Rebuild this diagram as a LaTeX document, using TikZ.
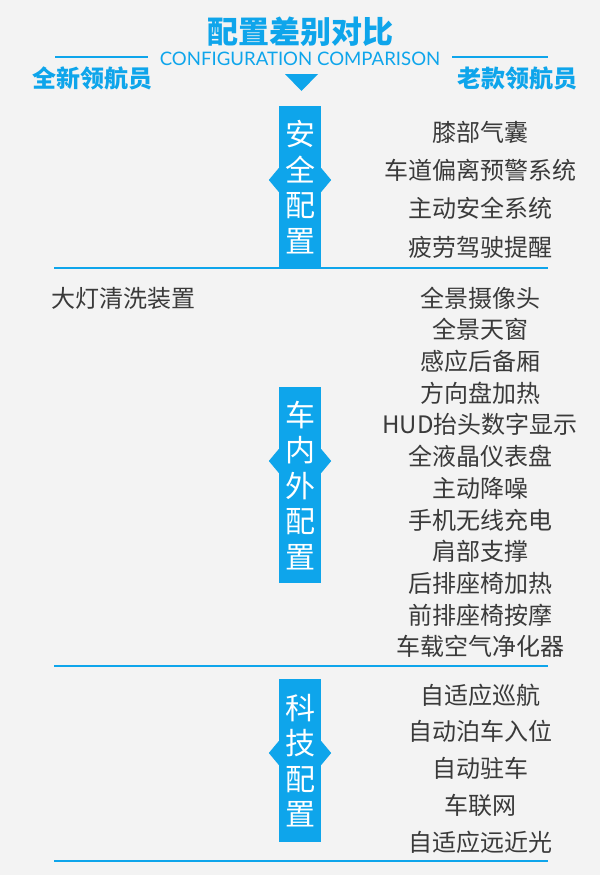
\documentclass[tikz,border=0pt]{standalone}
\usepackage{fontspec}
\setmainfont{Noto Sans CJK SC}
\newfontfamily\latinfont{Lato}
\usetikzlibrary{calc,positioning}
\definecolor{cfgblue}{HTML}{0EA5EB}
\definecolor{cfgtext}{HTML}{3A3A3A}
\definecolor{cfgback}{HTML}{F3F3F3}

\begin{document}
\begin{tikzpicture}[x=1pt,y=-1pt,
itemtext/.style={text=cfgtext, font=\fontsize{24}{28}\selectfont, inner sep=0pt, text height=20.6pt, text depth=2.4pt},
headtext/.style={text=cfgblue, font=\fontsize{24}{28}\selectfont\bfseries, inner sep=0pt},
catbox/.style={rectangle, fill=cfgblue, text=white, minimum width=42pt, inner sep=0pt, anchor=north, align=center, font=\fontsize{30}{35.5}\selectfont},
sepline/.style={draw=cfgblue, line width=1.5pt},
topline/.style={draw=cfgblue, line width=2pt}
]
%Background
\fill[cfgback] (0,0) rectangle (600,875);
\useasboundingbox (0,0) rectangle (600,875);

%Header
\node[headtext, font=\fontsize{31}{34}\selectfont\bfseries] (title) at (300,32) {配置差别对比};
\node[text=cfgblue, inner sep=0pt, font=\latinfont\fontsize{18.6}{20}\selectfont] (subtitle) at (300,59) {CONFIGURATION COMPARISON};
\draw[topline] (55,57) -- (148,57);
\draw[topline] (452,57) -- (548,57);
\node[headtext] (newhead) at (92.5,78.5) {全新领航员};
\node[headtext] (oldhead) at (517,78.5) {老款领航员};
\fill[cfgblue] (285,74) -- (318,74) -- (301.5,91) -- cycle;

%Lines
\draw[sepline] (54,268) -- (548,268);
\draw[sepline] (54,666) -- (548,666);
\draw[sepline] (54,861) -- (548,861);

%Categories
\node[catbox, minimum height=162pt] (safety) at (300,106) {安\\全\\配\\置};
\node[catbox, minimum height=196pt] (body) at (300,387) {车\\内\\外\\配\\置};
\node[catbox, minimum height=163pt] (tech) at (300,679) {科\\技\\配\\置};
\foreach \b in {safety,body,tech} {
  \fill[cfgblue] ($(\b.north west)+(0,62)$) -- ++(-10,12) -- ++(10,12) -- cycle;
  \fill[cfgblue] ($(\b.north east)+(0,62)$) -- ++(10,12) -- ++(-10,12) -- cycle;
}

%Items
\node[itemtext] (lamp) at (123,298) {大灯清洗装置};
\foreach \t [count=\i from 0] in {膝部气囊,车道偏离预警系统,主动安全系统,疲劳驾驶提醒}
  \node[itemtext] (safe-\i) at (480,{132+38.4*\i}) {\t};
\foreach \t [count=\i from 0] in {全景摄像头,全景天窗,感应后备厢,方向盘加热,HUD抬头数字显示,全液晶仪表盘,主动降噪,手机无线充电,肩部支撑,后排座椅加热,前排座椅按摩,车载空气净化器}
  \node[itemtext] (body-\i) at (480,{298+31.7*\i}) {\t};
\foreach \t [count=\i from 0] in {自适应巡航,自动泊车入位,自动驻车,车联网,自适应远近光}
  \node[itemtext] (tech-\i) at (480,{695+36.75*\i}) {\t};

\end{tikzpicture}
\end{document}
